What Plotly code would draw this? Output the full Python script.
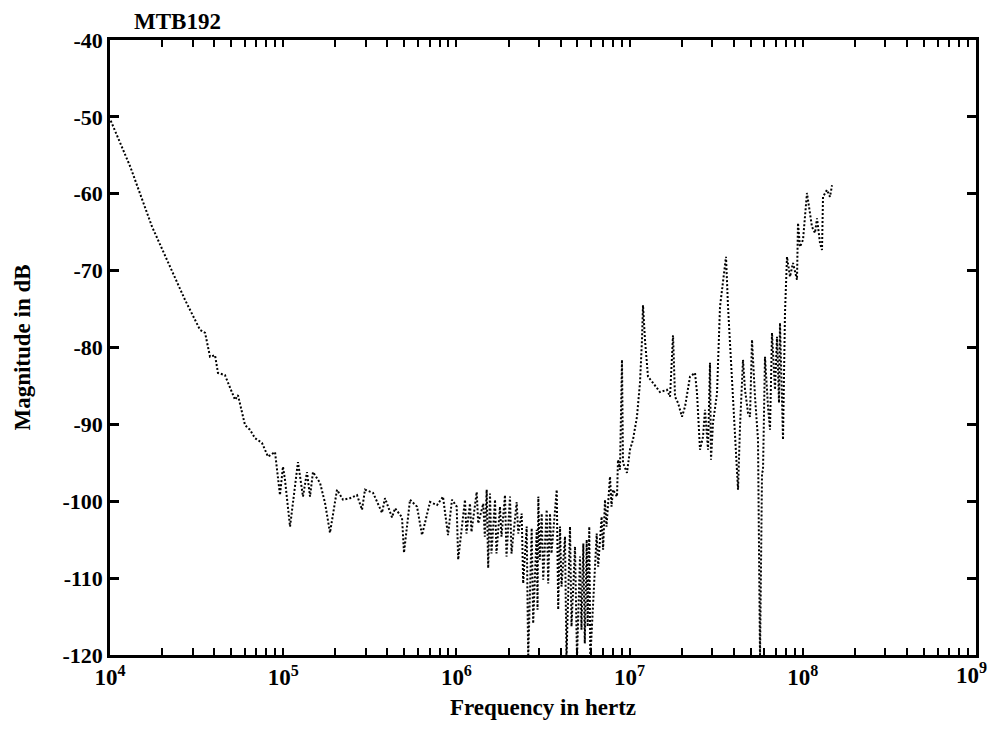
import plotly.graph_objects as go

title_text = "MTB192"
x_title = "Frequency in hertz"
y_title = "Magnitude in dB"

freq_hz = [
    1.01e4, 1.31e4, 1.75e4, 2.22e4, 2.71e4, 3.31e4, 3.54e4, 3.78e4, 4.04e4, 4.20e4,
    4.61e4, 5.27e4, 5.48e4, 6.02e4, 6.43e4, 6.88e4, 7.54e4, 8.17e4, 8.97e4, 9.58e4,
    9.97e4, 1.024e5, 1.095e5, 1.217e5, 1.301e5, 1.372e5, 1.428e5, 1.486e5, 1.631e5, 1.743e5,
    1.863e5, 2.045e5, 2.215e5, 2.430e5, 2.668e5, 2.851e5, 2.967e5, 3.300e5, 3.720e5, 3.870e5,
    4.249e5, 4.422e5, 4.852e5, 4.983e5, 5.398e5, 5.924e5, 6.330e5, 7.041e5, 7.727e5, 8.368e5,
    8.944e5, 9.432e5,
    1.004e6, 1.024e6, 1.121e6, 1.143e6, 1.198e6, 1.222e6, 1.310e6, 1.336e6, 1.430e6, 1.459e6,
    1.496e6, 1.526e6, 1.563e6, 1.594e6, 1.671e6, 1.704e6, 1.785e6, 1.821e6, 1.908e6, 1.946e6,
    2.039e6, 2.080e6, 2.229e6, 2.274e6, 2.382e6, 2.430e6, 2.546e6, 2.597e6, 2.721e6, 2.775e6,
    2.909e6, 2.940e6, 2.971e6, 3.030e6, 3.109e6, 3.171e6, 3.322e6, 3.388e6, 3.471e6, 3.540e6,
    3.795e6, 3.871e6, 3.965e6, 4.044e6, 4.236e6, 4.321e6, 4.528e6, 4.619e6, 4.839e6, 4.970e6,
    5.172e6, 5.275e6, 5.404e6, 5.512e6, 5.654e6, 5.730e6, 5.850e6, 5.930e6, 6.457e6, 6.586e6,
    6.893e6, 7.031e6, 7.211e6, 7.355e6, 7.707e6, 7.861e6,
    8.021e6, 8.459e6, 8.570e6, 8.801e6, 9.037e6, 9.159e6, 9.661e6,
    1.005e7, 1.046e7, 1.103e7, 1.148e7, 1.179e7, 1.195e7, 1.227e7, 1.277e7, 1.365e7, 1.498e7,
    1.644e7, 1.712e7, 1.781e7, 1.829e7, 1.903e7, 2.007e7, 2.089e7, 2.232e7, 2.386e7, 2.450e7,
    2.550e7, 2.654e7, 2.725e7, 2.836e7, 2.912e7, 2.951e7, 3.031e7, 3.196e7, 3.326e7, 3.603e7,
    3.700e7, 3.902e7, 4.060e7, 4.226e7, 4.339e7, 4.516e7, 4.638e7, 4.827e7, 4.957e7, 5.090e7,
    5.297e7, 5.513e7, 5.662e7, 5.814e7, 5.892e7, 6.050e7, 6.296e7, 6.466e7, 6.640e7, 6.910e7,
    7.096e7, 7.288e7, 7.385e7, 7.686e7, 7.892e7, 8.104e7, 8.435e7, 8.778e7, 9.258e7, 9.382e7,
    9.634e7, 1.003e8, 1.057e8, 1.100e8, 1.130e8, 1.176e8, 1.208e8, 1.257e8, 1.291e8, 1.308e8,
    1.379e8, 1.435e8, 1.475e8,
]

magnitude_db = [
    -50.5, -56.5, -64.3, -69.5, -73.8, -77.7, -78.1, -81.2, -81.0, -83.3,
    -83.6, -86.8, -86.2, -90.1, -90.7, -91.8, -92.4, -94.2, -93.6, -99.2,
    -95.5, -97.2, -103.3, -94.9, -99.4, -96.2, -99.4, -96.2, -97.6, -100.2,
    -104.1, -98.5, -99.8, -99.6, -99.2, -101.1, -98.5, -98.9, -101.5, -99.6,
    -102.1, -100.9, -102.1, -106.7, -99.8, -100.7, -104.4, -100.1, -100.5, -99.4,
    -104.4, -99.8,
    -100.7, -107.6, -99.8, -104.2, -100.3, -104.0, -98.8, -102.9, -100.3, -104.6,
    -98.5, -108.7, -99.0, -106.8, -99.8, -106.8, -100.7, -104.6, -99.2, -107.2,
    -99.4, -106.8, -100.1, -104.2, -101.6, -110.7, -103.3, -120.5, -103.5, -115.9,
    -103.7, -114.1, -99.4, -107.6, -101.6, -110.2, -101.1, -110.7, -101.6, -106.8,
    -98.5, -114.1, -103.3, -111.1, -104.6, -120.5, -103.3, -116.3, -105.9, -120.5,
    -107.2, -116.7, -105.5, -118.5, -105.0, -116.3, -103.3, -120.5, -104.2, -108.5,
    -102.0, -106.3, -99.8, -103.3, -96.8, -100.7,
    -98.5, -99.4, -94.6, -95.9, -81.6, -95.0, -96.3,
    -93.3, -92.0, -89.0, -84.6, -79.0, -74.5, -79.0, -83.8, -84.6, -85.8,
    -85.5, -86.4, -78.4, -86.4, -87.2, -89.0, -87.7, -83.8, -83.3, -85.9,
    -93.3, -91.6, -88.1, -93.3, -82.0, -94.6, -89.8, -86.0, -74.7, -68.2,
    -74.7, -84.2, -92.0, -98.5, -90.3, -81.6, -85.5, -88.5, -89.0, -79.0,
    -86.4, -92.0, -120.5, -96.3, -96.0, -81.2, -87.7, -90.7, -78.1, -85.5,
    -78.6, -87.2, -76.8, -92.0, -75.5, -68.2, -70.8, -69.0, -71.2, -63.8,
    -66.9, -66.0, -59.9, -62.5, -64.3, -65.1, -63.2, -66.4, -67.3, -60.4,
    -59.5, -60.4, -58.9,
]

decades = [4, 5, 6, 7, 8, 9]
y_ticks = [-120, -110, -100, -90, -80, -70, -60, -50, -40]

x_tickvals = []
x_ticktext = []
for d in decades:
    for m in range(1, 10):
        if d == 9 and m > 1:
            break
        x_tickvals.append(m * 10 ** d)
        # the last decade label is placed separately so it stays inside the page
        x_ticktext.append(f"10<sup>{d}</sup>" if (m == 1 and d != decades[-1]) else "")

font_family = "Liberation Serif, DejaVu Serif, serif"

fig = go.Figure()
fig.add_trace(go.Scatter(
    x=freq_hz, y=magnitude_db, mode="lines",
    line=dict(color="black", width=2, dash="2px,2px"),
    showlegend=False, hoverinfo="skip",
))

fig.update_layout(
    width=988, height=744,
    margin=dict(l=110, r=12, t=40, b=89, autoexpand=False),
    paper_bgcolor="white", plot_bgcolor="white",
    font=dict(family=font_family, color="black", size=20, weight="bold"),
    annotations=[
        dict(text=title_text, xref="paper", yref="paper", x=0.025, y=1.0,
             xanchor="left", yanchor="bottom", yshift=4, showarrow=False,
             font=dict(size=23, family=font_family, color="black", weight="bold")),
        dict(text=f"10<sup>{decades[-1]}</sup>", xref="paper", yref="paper",
             x=1.0, y=0.0, xanchor="right", yanchor="top", xshift=13, yshift=-2,
             showarrow=False,
             font=dict(size=23, family=font_family, color="black", weight="bold")),
    ],
)

fig.update_xaxes(
    type="log", range=[4, 9.00001],
    tickvals=x_tickvals, ticktext=x_ticktext,
    ticks="inside", ticklen=7, tickwidth=1.5, tickcolor="black",
    automargin=False,
    showline=True, linewidth=2.5, linecolor="black", mirror="ticks",
    showgrid=False, zeroline=False,
    tickfont=dict(size=23, family=font_family, weight="bold"),
    title=dict(text=x_title, font=dict(size=23, family=font_family, weight="bold"), standoff=10),
)

fig.update_yaxes(
    range=[-120, -40],
    tickvals=y_ticks, ticktext=[str(v) for v in y_ticks],
    ticks="inside", ticklen=9, tickwidth=2.5, tickcolor="black",
    automargin=False,
    showline=True, linewidth=2.5, linecolor="black", mirror="ticks",
    showgrid=False, zeroline=False,
    tickfont=dict(size=22, family=font_family, weight="bold"),
    title=dict(text=y_title, font=dict(size=23, family=font_family, weight="bold"), standoff=26),
)

fig.write_html("out.html")
